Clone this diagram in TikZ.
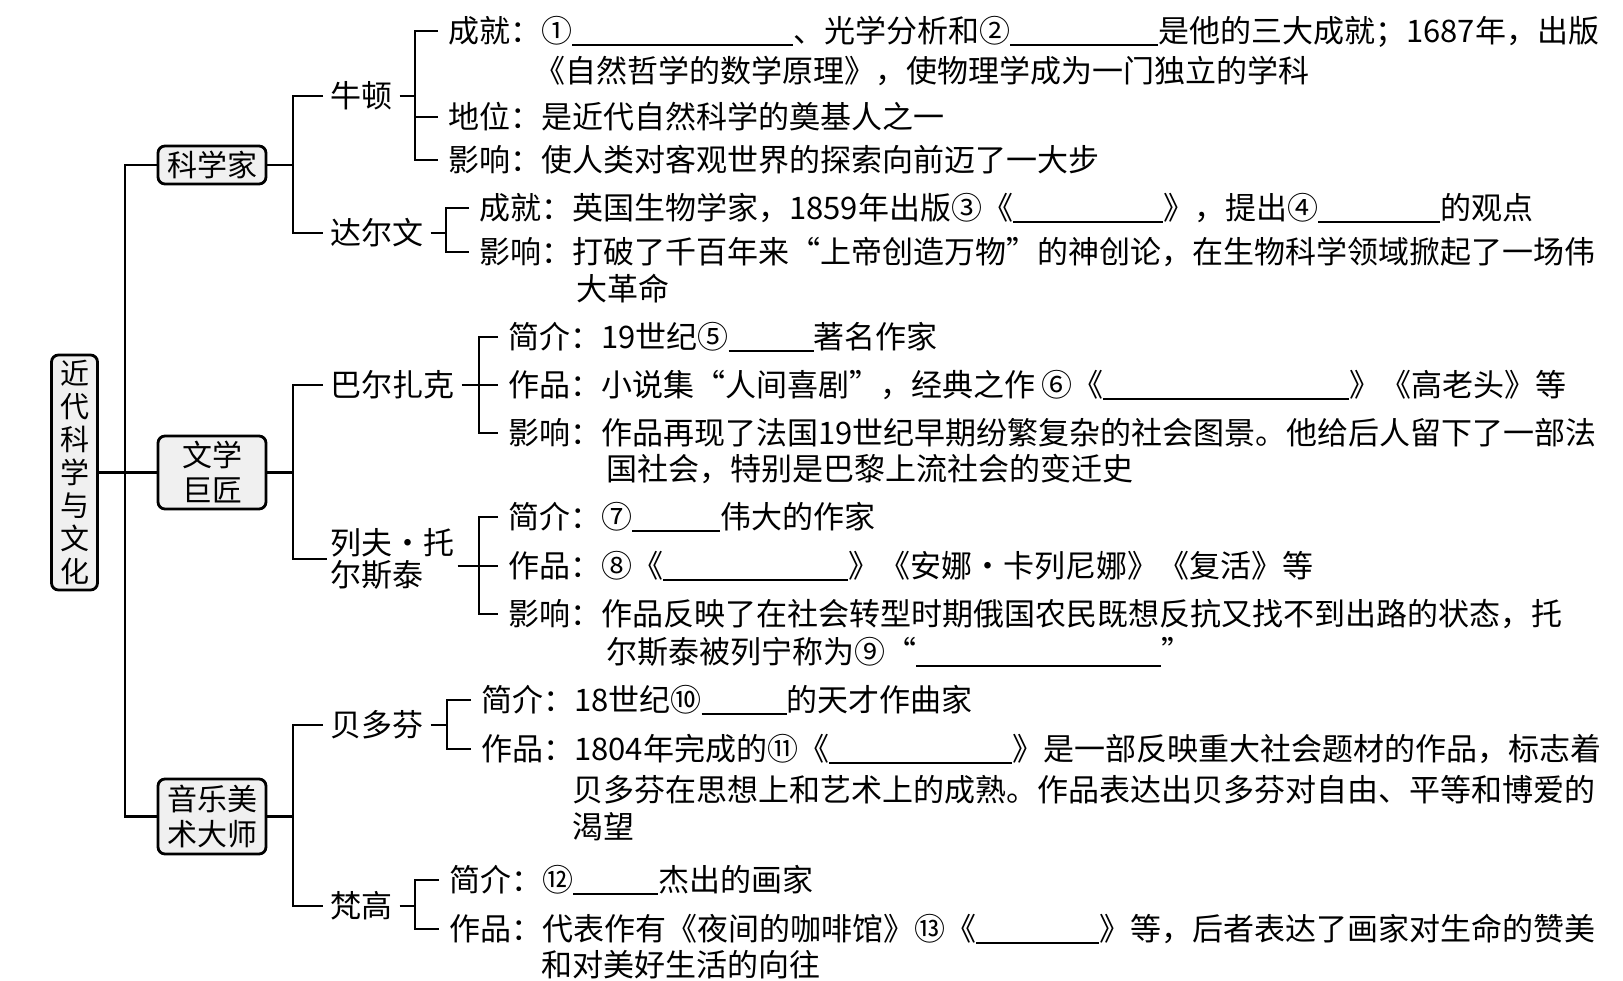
\documentclass[tikz,border=0pt]{standalone}
\usepackage{fontspec}
\setmainfont{Noto Sans CJK SC}
\newcommand{\bk}[1]{\rule[-3bp]{#1bp}{2bp}}
\newcommand{\dotc}{\makebox[1em]{·}}
\begin{document}
\begin{tikzpicture}[x=1bp,y=-1bp,line width=2.5bp,
  font=\fontsize{31bp}{38bp}\selectfont,
  box/.style={draw,line width=2.8bp,rounded corners=7bp,fill=gray!12,inner sep=0pt,align=center,
    font=\fontsize{30bp}{35bp}\selectfont},
  nm/.style={inner xsep=6bp,inner ysep=0pt,anchor=west,text height=25bp,text depth=1.5bp},
  nm2/.style={inner xsep=2bp,inner ysep=0pt,anchor=west,align=left,font=\fontsize{31bp}{32bp}\selectfont},
  tx/.style={inner xsep=9bp,inner ysep=0pt,anchor=west,text height=25bp,text depth=1.5bp},
  ln/.style={inner sep=0pt,anchor=west,text height=25bp,text depth=1.5bp}]
\useasboundingbox[fill=white] (0,0) rectangle (1623,980);
% level 0 and 1 boxes
\node[box,minimum width=46bp,minimum height=235bp,font=\fontsize{29bp}{33bp}\selectfont] (root) at (74.5,472.5) {近\\代\\科\\学\\与\\文\\化};
\node[box,minimum width=108bp,minimum height=38bp] (kx) at (212,165) {科学家};
\node[box,minimum width=108bp,minimum height=73bp] (wx) at (212,472.5) {文学\\巨匠};
\node[box,minimum width=108bp,minimum height=75bp] (yx) at (212,816.5) {音乐美\\术大师};
\coordinate (v0) at (125,472.5);
\draw (root.east) -- (wx.west);
\draw (kx.west) -| (v0) |- (yx.west);
% level 2 names
\node[nm] (n1) at (323,96) {牛顿};
\node[nm] (n2) at (323,233) {达尔文};
\node[nm] (n3) at (323,385) {巴尔扎克};
\node[nm2] (n4) at (327,559) {列夫\dotc 托\\尔斯泰};
\node[nm] (n5) at (323,725) {贝多芬};
\node[nm] (n6) at (323,906) {梵高};
\coordinate (v1) at (293,165);
\coordinate (v2) at (293,472.5);
\coordinate (v3) at (293,816.5);
\draw (kx.east) -- (v1);
\draw (n1.west) -| (v1) |- (n2.west);
\draw (wx.east) -- (v2);
\draw (n3.west) -| (v2) |- (n4.west);
\draw (yx.east) -- (v3);
\draw (n5.west) -| (v3) |- (n6.west);
% Newton
\node[tx] (a1) at (438,31) {成就：①\bk{221}、光学分析和②\bk{148}是他的三大成就；1687年，出版};
\node[ln] (a1b) at (533,71) {《自然哲学的数学原理》，使物理学成为一门独立的学科};
\node[tx] (a2) at (438,117) {地位：是近代自然科学的奠基人之一};
\node[tx] (a3) at (438,160) {影响：使人类对客观世界的探索向前迈了一大步};
\coordinate (b1) at (415,96);
\draw (n1.east) -- (b1);
\draw (a1.west) -| (b1) |- (a3.west);
\draw (b1 |- a2.west) -- (a2.west);
% Darwin
\node[tx] (d1) at (469,208) {成就：英国生物学家，1859年出版③《\bk{150}》，提出④\bk{122}的观点};
\node[tx] (d2) at (469,252) {影响：打破了千百年来“上帝创造万物”的神创论，在生物科学领域掀起了一场伟};
\node[ln] (d2b) at (575,289) {大革命};
\coordinate (b2) at (446,233);
\draw (n2.east) -- (b2);
\draw (d1.west) -| (b2) |- (d2.west);
% Balzac
\node[tx] (c1) at (498,337) {简介：19世纪⑤\bk{85}著名作家};
\node[tx] (c2) at (498,385) {作品：小说集“人间喜剧”，经典之作\hspace{6bp}⑥《\bk{246}》《高老头》等};
\node[tx] (c3) at (498,433) {影响：作品再现了法国19世纪早期纷繁复杂的社会图景。他给后人留下了一部法};
\node[ln] (c3b) at (605,469) {国社会，特别是巴黎上流社会的变迁史};
\coordinate (b3) at (479,385);
\draw (n3.east) -- (c2.west);
\draw (c1.west) -| (b3) |- (c3.west);
% Tolstoy
\node[tx] (e1) at (498,517) {简介：⑦\bk{88}伟大的作家};
\node[tx] (e2) at (498,566) {作品：⑧《\bk{185}》《安娜\dotc 卡列尼娜》《复活》等};
\node[tx] (e3) at (498,614) {影响：作品反映了在社会转型时期俄国农民既想反抗又找不到出路的状态，托};
\node[ln] (e3b) at (605,652) {尔斯泰被列宁称为⑨“\bk{245}”};
\coordinate (b4) at (479,566);
\draw (n4.east |- e2.west) -- (e2.west);
\draw (e1.west) -| (b4) |- (e3.west);
% Beethoven
\node[tx] (f1) at (471,700) {简介：18世纪⑩\bk{85}的天才作曲家};
\node[tx] (f2) at (471,749) {作品：1804年完成的⑪《\bk{183}》是一部反映重大社会题材的作品，标志着};
\node[ln] (f2b) at (571,790) {贝多芬在思想上和艺术上的成熟。作品表达出贝多芬对自由、平等和博爱的};
\node[ln] (f2c) at (571,827) {渴望};
\coordinate (b5) at (447,725);
\draw (n5.east) -- (b5);
\draw (f1.west) -| (b5) |- (f2.west);
% Van Gogh
\node[tx] (g1) at (439,880) {简介：⑫\bk{85}杰出的画家};
\node[tx] (g2) at (439,929) {作品：代表作有《夜间的咖啡馆》⑬《\bk{123}》等，后者表达了画家对生命的赞美};
\node[ln] (g2b) at (540,965) {和对美好生活的向往};
\coordinate (b6) at (415,906);
\draw (n6.east) -- (b6);
\draw (g1.west) -| (b6) |- (g2.west);
\end{tikzpicture}
\end{document}
